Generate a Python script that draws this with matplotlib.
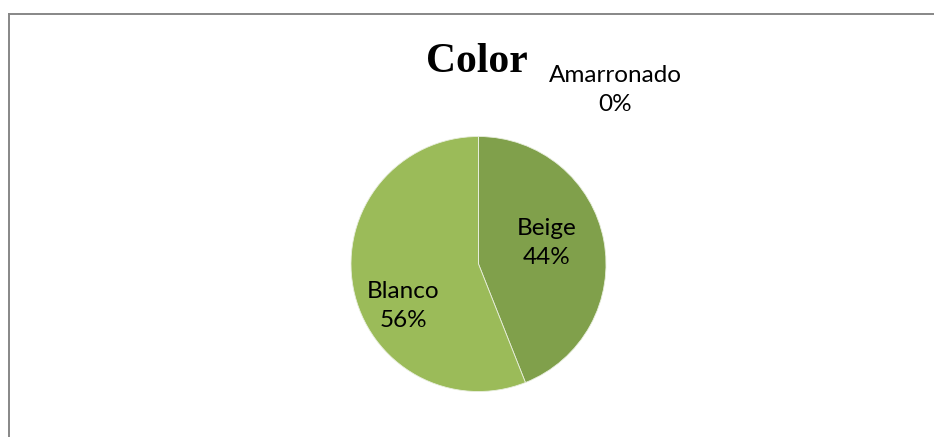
import matplotlib.pyplot as plt
from matplotlib.lines import Line2D
import numpy as np

# datos del grafico
categorias = ["Beige", "Blanco", "Amarronado"]
porcentajes = [44, 56, 0]
colores = ["#80a04b", "#9bbb59", "#8b6a3e"]
# posicion de cada etiqueta (radio del pie = 1)
pos_etiquetas = [(0.535, 0.165), (-0.59, -0.33), (1.07, 1.365)]

W, H = 934, 437
fig = plt.figure(figsize=(W / 100, H / 100), dpi=100)

# borde del area del grafico (solo se ven arriba e izquierda)
fig.add_artist(Line2D([8.5 / W, 8.5 / W], [0, 1 - 13.5 / H], color="#878787", lw=1.4))
fig.add_artist(Line2D([8.5 / W, 1], [1 - 13.5 / H, 1 - 13.5 / H], color="#878787", lw=1.4))

cx, cy, r = 478.5, 264, 127.5
ax = fig.add_axes([(cx - r) / W, (H - cy - r) / H, 2 * r / W, 2 * r / H])
ax.pie(porcentajes, colors=colores, startangle=90, counterclock=False,
       radius=1, wedgeprops=dict(edgecolor="#e8eedd", linewidth=0.6))
ax.set_xlim(-1, 1)
ax.set_ylim(-1, 1)
ax.set_aspect("equal")
ax.axis("off")

for cat, p, (x, y) in zip(categorias, porcentajes, pos_etiquetas):
    ax.text(x, y, f"{cat}\n{p}%", ha="center", va="center", fontsize=17.5,
            family="Lato", color="black", linespacing=1.5)

fig.text(477 / W, 1 - 62 / H, "Color", ha="center", va="center",
         fontsize=30, fontweight="bold", family="Liberation Serif")

fig.savefig("out.png", dpi=100)
